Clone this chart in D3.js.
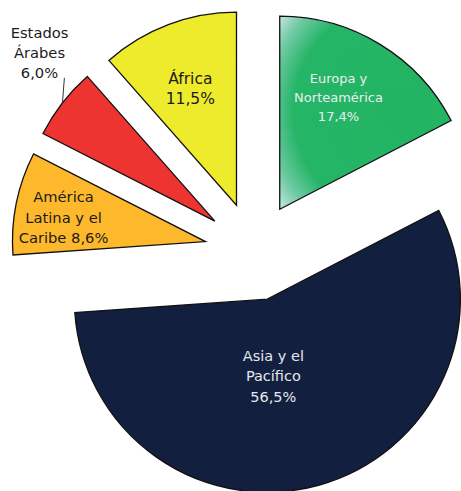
<!DOCTYPE html>
<html>
<head>
<meta charset="utf-8">
<script src="https://cdn.jsdelivr.net/npm/d3@7"></script>
<style>
  html, body { margin: 0; padding: 0; background: #ffffff; }
  svg { display: block; }
</style>
</head>
<body>
<svg id="chart" width="461" height="491"></svg>
<script>
// ---- data ----
const categories = ["Europa y Norteamérica", "Asia y el Pacífico", "América Latina y el Caribe", "Estados Árabes", "África"];
const values = [17.4, 56.5, 8.6, 6.0, 11.5];
const valueLabels = ["17,4%", "56,5%", "8,6%", "6,0%", "11,5%"];
const labelLines = [
  ["Europa y", "Norteamérica", "17,4%"],
  ["Asia y el", "Pacífico", "56,5%"],
  ["América", "Latina y el", "Caribe 8,6%"],
  ["Estados", "Árabes", "6,0%"],
  ["África", "11,5%"]
];

// ---- layout / style ----
const colors = ["url(#gradEuropa)", "#131f3f", "#fdb92b", "#ee3430", "#eeea2c"];
const textColors = ["#eaeef0", "#e4e8ee", "#1b1b1b", "#1b1b1b", "#1b1b1b"];
const fontSizes = [13, 14.5, 14.7, 14.7, 15.5];
const lineHeights = [19, 20.5, 20.5, 20, 20];
// label placement relative to each slice apex: distance and angle offset (deg) from slice mid-angle
const labelDist = [126, 77, 144, 243, 126];
const labelAngOff = [-3.5, 11.2, -1.9, 6.0, -0.8];

const cx = 254, cy = 251.5, R = 193, explode = 49.5;

const svg = d3.select("#chart");
const defs = svg.append("defs");
// gradient coordinates are in the slice's local frame (origin at the slice apex)
const g1 = defs.append("radialGradient").attr("id", "gradEuropa")
  .attr("gradientUnits", "userSpaceOnUse")
  .attr("cx", 126).attr("cy", -98).attr("r", 160);
g1.append("stop").attr("offset", "0").attr("stop-color", "#22b462");
g1.append("stop").attr("offset", "0.70").attr("stop-color", "#25b567");
g1.append("stop").attr("offset", "0.86").attr("stop-color", "#6fc9a3");
g1.append("stop").attr("offset", "1").attr("stop-color", "#cbe9e4");

const pie = d3.pie().sort(null).value(d => d).startAngle(0).endAngle(2 * Math.PI);
const arcs = pie(values);
const arc = d3.arc().innerRadius(0).outerRadius(R);

const dir = a => [Math.sin(a), -Math.cos(a)];

const slices = svg.append("g").selectAll("g.slice")
  .data(arcs)
  .join("g")
  .attr("class", "slice")
  .attr("transform", d => {
    const m = (d.startAngle + d.endAngle) / 2;
    const [ux, uy] = dir(m);
    return `translate(${cx + explode * ux},${cy + explode * uy})`;
  });

slices.append("path")
  .attr("d", arc)
  .attr("fill", (d, i) => colors[i])
  .attr("stroke", "#111")
  .attr("stroke-width", 1.3)
  .attr("stroke-linejoin", "miter");

// leader line for Estados Árabes
slices.filter((d, i) => i === 3).each(function(d) {
  const m = (d.startAngle + d.endAngle) / 2;
  const [ux, uy] = dir(m);
  const x0 = R * ux, y0 = R * uy;
  d3.select(this).append("line")
    .attr("x1", x0).attr("y1", y0 + 1)
    .attr("x2", x0 + 2).attr("y2", y0 - 25)
    .attr("stroke", "#333").attr("stroke-width", 1);
});

// labels
slices.each(function(d, i) {
  const m = (d.startAngle + d.endAngle) / 2 + labelAngOff[i] * Math.PI / 180;
  const [ux, uy] = dir(m);
  const lx = labelDist[i] * ux, ly = labelDist[i] * uy;
  const lines = labelLines[i];
  const n = lines.length;
  const t = d3.select(this).append("text")
    .attr("text-anchor", "middle")
    .attr("font-family", "'DejaVu Sans', Verdana, sans-serif")
    .attr("font-size", fontSizes[i])
    .attr("fill", textColors[i]);
  lines.forEach((ln, k) => {
    t.append("tspan")
      .attr("x", lx)
      .attr("y", ly + (k - (n - 1) / 2) * lineHeights[i] + 0.36 * fontSizes[i])
      .text(ln);
  });
});
</script>
</body>
</html>
